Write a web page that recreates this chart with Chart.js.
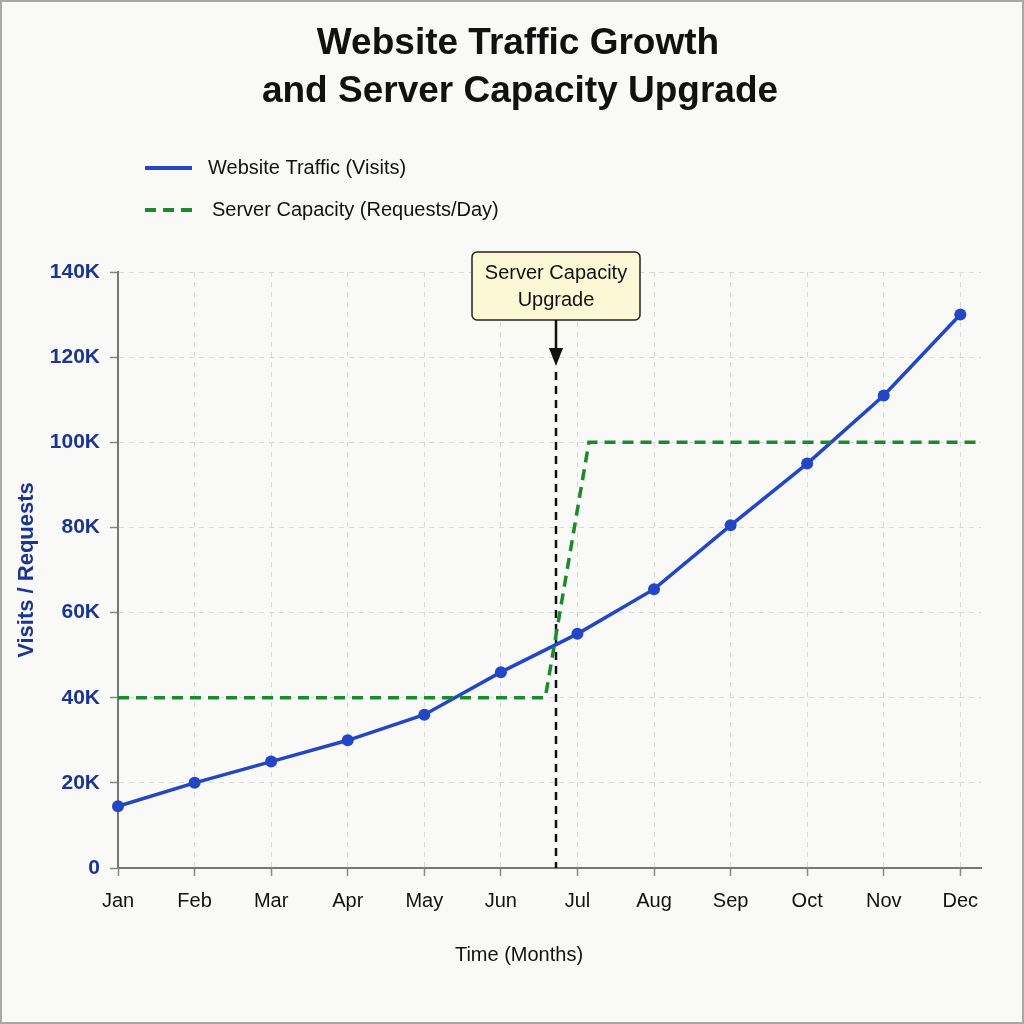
<!DOCTYPE html>
<html>
<head>
<meta charset="utf-8">
<script src="https://cdn.jsdelivr.net/npm/chart.js@4.4.1/dist/chart.umd.min.js"></script>
<style>
  html, body { margin: 0; padding: 0; background: #f9f9f7; }
  #wrap { width: 1024px; height: 1024px; }
</style>
</head>
<body>
<div id="wrap"><canvas id="c" width="1024" height="1024"></canvas></div>
<script>
// ---- data ----
const months = ['Jan', 'Feb', 'Mar', 'Apr', 'May', 'Jun', 'Jul', 'Aug', 'Sep', 'Oct', 'Nov', 'Dec'];
const trafficVisits = [14500, 20000, 25000, 30000, 36000, 46000, 55000, 65500, 80500, 95000, 111000, 130000];
const capacityMonth = [0, 5.58, 6.15, 11.27];
const capacityRequests = [40000, 40000, 100000, 100000];
const upgradeMonth = 5.72;
const titleLines = ['Website Traffic Growth', 'and Server Capacity Upgrade'];
const seriesNames = ['Website Traffic (Visits)', 'Server Capacity (Requests/Day)'];
const annotationLines = ['Server Capacity', 'Upgrade'];
const xAxisTitle = 'Time (Months)';
const yAxisTitle = 'Visits / Requests';
const yTickValues = [0, 20000, 40000, 60000, 80000, 100000, 120000, 140000];

const FONT = '"Liberation Sans", Arial, "DejaVu Sans", sans-serif';
const BLUE = '#2346c6';
const GREEN = '#1b8a2a';
const NAVY = '#1c3593';

const decorPlugin = {
  id: 'decor',
  beforeDraw(chart) {
    const ctx = chart.ctx;
    ctx.save();
    ctx.fillStyle = '#f9f9f7';
    ctx.fillRect(0, 0, chart.width, chart.height);
    ctx.restore();
  },
  beforeDatasetsDraw(chart) {
    const ctx = chart.ctx;
    const x = Math.round(chart.scales.x.getPixelForValue(upgradeMonth));
    const top = chart.chartArea.top;
    const bottom = chart.chartArea.bottom;
    ctx.save();
    ctx.strokeStyle = '#111';
    ctx.lineWidth = 2.5;
    ctx.setLineDash([8, 6]);
    ctx.beginPath();
    ctx.moveTo(x, top + 100);
    ctx.lineTo(x, bottom);
    ctx.stroke();
    ctx.restore();
  },
  afterDraw(chart) {
    const ctx = chart.ctx;
    ctx.save();
    // title
    ctx.fillStyle = '#111';
    ctx.font = 'bold 37px ' + FONT;
    ctx.textAlign = 'center';
    ctx.textBaseline = 'middle';
    ctx.fillText(titleLines[0], 518, 44);
    ctx.fillText(titleLines[1], 520, 92);

    // x axis title
    ctx.font = '20px ' + FONT;
    ctx.fillText(xAxisTitle, 519, 955);

    // legend
    const ds = chart.data.datasets;
    const rows = [168, 210];
    ctx.textAlign = 'left';
    ds.forEach((d, i) => {
      ctx.save();
      ctx.strokeStyle = d.borderColor;
      ctx.lineWidth = 4;
      ctx.setLineDash(d.borderDash || []);
      ctx.beginPath();
      ctx.moveTo(145, rows[i]);
      ctx.lineTo(192, rows[i]);
      ctx.stroke();
      ctx.restore();
      ctx.fillStyle = '#111';
      ctx.fillText(seriesNames[i], i === 0 ? 208 : 212, rows[i]);
    });

    // annotation box + arrow
    const x = Math.round(chart.scales.x.getPixelForValue(upgradeMonth));
    const top = chart.chartArea.top;
    const bx = x - 84, by = top - 20, bw = 168, bh = 68;
    ctx.fillStyle = '#fcf8d6';
    ctx.strokeStyle = '#222';
    ctx.lineWidth = 1.5;
    ctx.beginPath();
    ctx.roundRect(bx, by, bw, bh, 5);
    ctx.fill();
    ctx.stroke();
    ctx.fillStyle = '#111';
    ctx.font = '20px ' + FONT;
    ctx.textAlign = 'center';
    ctx.fillText(annotationLines[0], x, by + 21);
    ctx.fillText(annotationLines[1], x, by + 48);
    // arrow
    ctx.strokeStyle = '#111';
    ctx.lineWidth = 2.5;
    ctx.beginPath();
    ctx.moveTo(x, by + bh);
    ctx.lineTo(x, by + bh + 32);
    ctx.stroke();
    ctx.fillStyle = '#111';
    ctx.beginPath();
    ctx.moveTo(x - 7, by + bh + 28);
    ctx.lineTo(x + 7, by + bh + 28);
    ctx.lineTo(x, by + bh + 46);
    ctx.closePath();
    ctx.fill();

    // frame
    ctx.strokeStyle = '#a8a8a8';
    ctx.lineWidth = 2;
    ctx.strokeRect(1, 1, chart.width - 2, chart.height - 2);
    ctx.restore();
  }
};

new Chart(document.getElementById('c'), {
  type: 'line',
  data: {
    datasets: [
      {
        label: seriesNames[0],
        data: trafficVisits.map((v, i) => ({ x: i, y: v })),
        borderColor: BLUE,
        backgroundColor: BLUE,
        borderWidth: 3.5,
        pointRadius: 6,
        pointBackgroundColor: BLUE,
        pointBorderWidth: 0,
        tension: 0,
        clip: false,
        order: 2
      },
      {
        label: seriesNames[1],
        data: capacityMonth.map((m, i) => ({ x: m, y: capacityRequests[i] })),
        borderColor: GREEN,
        backgroundColor: GREEN,
        borderWidth: 3.5,
        borderDash: [11, 7],
        pointRadius: 0,
        tension: 0,
        clip: false,
        order: 1
      }
    ]
  },
  options: {
    responsive: false,
    animation: false,
    events: [],
    layout: { padding: { top: 272, left: 10, right: 43, bottom: 36 } },
    plugins: {
      legend: { display: false },
      title: { display: false },
      tooltip: { enabled: false }
    },
    scales: {
      x: {
        type: 'linear',
        min: 0,
        max: 11.27,
        afterBuildTicks(s) { s.ticks = months.map((m, i) => ({ value: i })); },
        afterFit(s) { s.height = 120; },
        ticks: {
          autoSkip: false,
          maxRotation: 0,
          callback: (v) => months[v],
          color: '#111',
          font: { family: FONT, size: 20 },
          padding: 13
        },
        grid: { color: '#dadada', lineWidth: 1, tickLength: 8, tickColor: '#888', tickWidth: 1.5 },
        border: { display: true, color: '#777', width: 2, dash: [5, 5] },
        title: { display: false }
      },
      y: {
        min: 0,
        max: 140000,
        afterBuildTicks(s) { s.ticks = yTickValues.map(v => ({ value: v })); },
        afterFit(s) { s.width = 108; },
        ticks: {
          callback: (v) => v === 0 ? '0' : (v / 1000) + 'K',
          color: NAVY,
          font: { family: FONT, size: 21, weight: 'bold' },
          padding: 10
        },
        grid: { color: '#dadada', lineWidth: 1, tickLength: 8, tickColor: '#888', tickWidth: 1.5 },
        border: { display: true, color: '#777', width: 2, dash: [5, 5] },
        title: {
          display: true,
          text: yAxisTitle,
          color: NAVY,
          font: { family: FONT, size: 22, weight: 'bold' },
          padding: { top: 4, bottom: 0 }
        }
      }
    }
  },
  plugins: [decorPlugin]
});
</script>
</body>
</html>
